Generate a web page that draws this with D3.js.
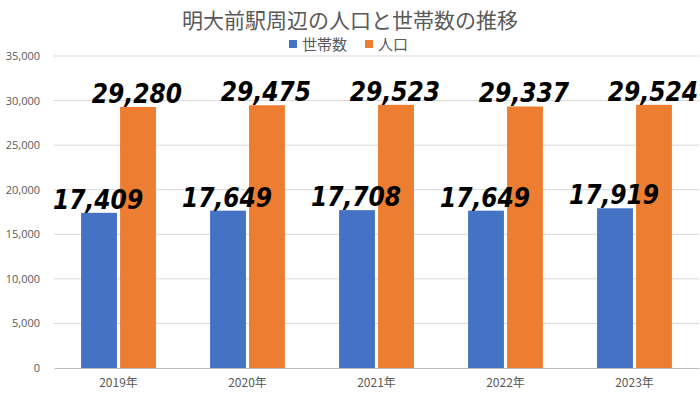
<!DOCTYPE html>
<html>
<head>
<meta charset="utf-8">
<script src="https://cdn.jsdelivr.net/npm/d3@7"></script>
<style>
  html, body { margin: 0; padding: 0; background: #fff; }
  svg { display: block; }
</style>
</head>
<body>
<svg id="chart" width="700" height="394"></svg>
<script>
const years = ["2019年", "2020年", "2021年", "2022年", "2023年"];
const households = [17409, 17649, 17708, 17649, 17919];
const population = [29280, 29475, 29523, 29337, 29524];
const seriesNames = ["世帯数", "人口"];
const seriesColors = ["#4472C4", "#ED7D31"];
const yTicks = [0, 5000, 10000, 15000, 20000, 25000, 30000, 35000];

const width = 700, height = 394;
const margin = { top: 56, right: 1, bottom: 26, left: 54 };
const innerW = width - margin.left - margin.right;
const innerH = height - margin.top - margin.bottom;

const svg = d3.select("#chart");
const root = svg.append("g").attr("transform", `translate(${margin.left},${margin.top})`);

const x0 = d3.scaleBand().domain(years).range([0, innerW]).padding(0);
const x1 = d3.scaleBand()
  .domain(seriesNames)
  .range([x0.bandwidth() * 0.21, x0.bandwidth() * 0.79])
  .paddingInner(0.08);
const y = d3.scaleLinear().domain([0, 35000]).range([innerH, 0]);

// grid
root.append("g")
  .selectAll("line")
  .data(yTicks.slice(1))
  .join("line")
  .attr("x1", 0).attr("x2", innerW)
  .attr("y1", (d) => y(d)).attr("y2", (d) => y(d))
  .attr("stroke", "#d9d9d9").attr("stroke-width", 1);

// y axis labels
const gy = root.append("g").call(
  d3.axisLeft(y).tickValues(yTicks).tickSize(0).tickPadding(14).tickFormat(d3.format(","))
);
gy.select(".domain").remove();
gy.selectAll("text")
  .attr("fill", "#595959")
  .style("font-family", "'Open Sans', 'Noto Sans', sans-serif")
  .style("font-size", "11px");

const flat = years.flatMap((yr, i) => [
  { yr, s: seriesNames[0], v: households[i], c: seriesColors[0] },
  { yr, s: seriesNames[1], v: population[i], c: seriesColors[1] },
]);

root.append("g")
  .selectAll("rect")
  .data(flat)
  .join("rect")
  .attr("x", (d) => x0(d.yr) + x1(d.s))
  .attr("y", (d) => y(d.v))
  .attr("width", x1.bandwidth())
  .attr("height", (d) => innerH - y(d.v))
  .attr("fill", (d) => d.c);

// x axis
const gx = root.append("g").attr("transform", `translate(0,${innerH})`)
  .call(d3.axisBottom(x0).tickSize(0).tickPadding(10));
gx.select(".domain").attr("stroke", "#bfbfbf").attr("stroke-width", 1.2);
gx.selectAll("text")
  .attr("fill", "#595959")
  .style("font-family", "'Noto Sans CJK JP', sans-serif")
  .style("font-size", "12px");

// value labels
root.append("g")
  .selectAll("text")
  .data(flat)
  .join("text")
  .attr("x", (d) => x0(d.yr) + x1(d.s) + x1.bandwidth() / 2 - 1)
  .attr("y", (d) => y(d.v) - 4)
  .attr("text-anchor", "middle")
  .style("font-family", "'DejaVu Sans Condensed', 'DejaVu Sans', sans-serif")
  .style("font-stretch", "condensed")
  .style("font-size", "26px")
  .style("font-weight", "bold")
  .style("font-style", "italic")
  .attr("fill", "#000")
  .text((d) => d3.format(",")(d.v));

// title
svg.append("text")
  .attr("x", width / 2).attr("y", 28)
  .attr("text-anchor", "middle")
  .style("font-family", "'Noto Sans CJK JP', sans-serif")
  .style("font-size", "21px")
  .attr("fill", "#595959")
  .text("明大前駅周辺の人口と世帯数の推移");

// legend
const legend = svg.append("g").attr("transform", "translate(289,0)");
const legendX = [0, 76];
seriesNames.forEach((name, i) => {
  legend.append("rect")
    .attr("x", legendX[i]).attr("y", 40)
    .attr("width", 8).attr("height", 8)
    .attr("fill", seriesColors[i]);
  legend.append("text")
    .attr("x", legendX[i] + 13).attr("y", 50)
    .style("font-family", "'Noto Sans CJK JP', sans-serif")
    .style("font-size", "15px")
    .attr("fill", "#595959")
    .text(name);
});
</script>
</body>
</html>
